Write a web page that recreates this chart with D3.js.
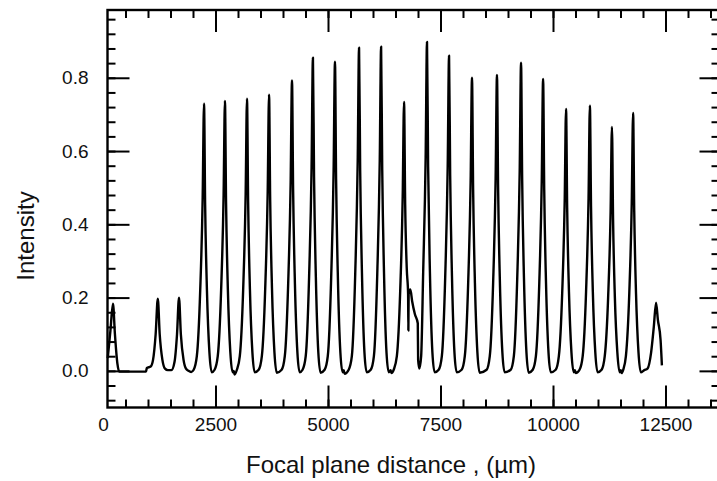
<!DOCTYPE html>
<html>
<head>
<meta charset="utf-8">
<script src="https://cdn.jsdelivr.net/npm/d3@7"></script>
<style>
  html, body { margin: 0; padding: 0; background: #fff; }
  svg { display: block; }
  .tick-label text { font-family: "Liberation Sans", Arial, sans-serif; font-size: 19px; fill: #111; }
  .axis-title { font-family: "Liberation Sans", Arial, sans-serif; font-size: 24px; fill: #111; }
</style>
</head>
<body>
<svg id="chart" width="717" height="481"></svg>
<script>
// tick labels
const xMajor = [0, 2500, 5000, 7500, 10000, 12500];
const yMajor = [0.0, 0.2, 0.4, 0.6, 0.8];
const xMinor = d3.range(500, 13700, 500);
const yMinor = d3.range(-0.08, 0.98, 0.04);

// measured trace: [focal plane distance (um), intensity]
const trace = [
  [105, 0.035], [165, 0.11], [222, 0.183], [265, 0.1], [320, 0.02], [360, -0.002],
  [400, -0.002], [600, -0.002], [800, -0.002], [955, -0.002],
  [975, 0.008], [1060, 0.012], [1112, 0.03], [1170, 0.1], [1218, 0.197], [1260, 0.1], [1320, 0.03], [1378, 0.006],
  [1440, 0.002], [1520, 0.002], [1590, 0.025], [1645, 0.1], [1689, 0.2], [1730, 0.1], [1790, 0.03], [1844, 0.006],
  [1900, 0.0], [1960, -0.003],
  [2015, 0.003], [2085, 0.04], [2160, 0.219], [2215, 0.474], [2245, 0.729], [2270, 0.452], [2310, 0.219], [2365, 0.05], [2415, -0.004],
  [2480, 0.003], [2550, 0.04], [2625, 0.221], [2680, 0.479], [2710, 0.737], [2735, 0.457], [2775, 0.221], [2830, 0.05], [2880, -0.004], [2905, 0.0], [2925, -0.01],
  [2975, 0.003], [3040, 0.04], [3115, 0.223], [3170, 0.483], [3200, 0.743], [3225, 0.461], [3265, 0.223], [3320, 0.05], [3370, -0.004],
  [3460, 0.003], [3530, 0.04], [3605, 0.226], [3660, 0.49], [3690, 0.754], [3715, 0.467], [3755, 0.226], [3810, 0.05], [3860, -0.005],
  [3970, 0.003], [4040, 0.04], [4115, 0.238], [4170, 0.515], [4200, 0.793], [4225, 0.492], [4265, 0.238], [4320, 0.05], [4370, -0.004],
  [4435, 0.003], [4505, 0.04], [4580, 0.257], [4635, 0.556], [4665, 0.855], [4690, 0.53], [4730, 0.257], [4785, 0.05], [4835, -0.005],
  [4925, 0.003], [4995, 0.04], [5070, 0.253], [5125, 0.549], [5155, 0.844], [5180, 0.523], [5220, 0.253], [5275, 0.05], [5325, -0.004], [5350, 0.002], [5370, -0.008],
  [5460, 0.003], [5530, 0.04], [5605, 0.265], [5660, 0.573], [5690, 0.882], [5715, 0.547], [5755, 0.265], [5810, 0.05], [5860, -0.004],
  [5950, 0.003], [6020, 0.04], [6095, 0.266], [6150, 0.575], [6180, 0.885], [6205, 0.549], [6245, 0.266], [6300, 0.05], [6350, -0.004], [6390, 0.002], [6410, -0.006],
  [6460, 0.003], [6530, 0.04], [6605, 0.22], [6660, 0.477], [6690, 0.734], [6715, 0.455], [6750, 0.28],
  [6780, 0.21], [6786, 0.11], [6792, 0.21], [6830, 0.222], [6870, 0.19], [6930, 0.155], [6995, 0.13], [7003, 0.03], [7030, 0.006],
  [7070, 0.04], [7115, 0.269], [7170, 0.584], [7200, 0.898], [7225, 0.557], [7265, 0.269], [7320, 0.05], [7370, -0.004],
  [7460, 0.003], [7530, 0.04], [7605, 0.258], [7660, 0.559], [7690, 0.86], [7715, 0.533], [7755, 0.258], [7810, 0.05], [7860, -0.004],
  [7970, 0.003], [8040, 0.04], [8115, 0.24], [8170, 0.52], [8200, 0.8], [8225, 0.496], [8265, 0.24], [8320, 0.05], [8370, -0.005],
  [8525, 0.003], [8595, 0.04], [8670, 0.242], [8725, 0.525], [8755, 0.808], [8780, 0.501], [8820, 0.242], [8875, 0.05], [8925, -0.004],
  [9060, 0.003], [9130, 0.04], [9205, 0.252], [9260, 0.547], [9290, 0.841], [9315, 0.521], [9355, 0.252], [9410, 0.05], [9460, -0.005],
  [9550, 0.003], [9620, 0.04], [9695, 0.239], [9750, 0.518], [9780, 0.797], [9805, 0.494], [9845, 0.239], [9900, 0.05], [9950, -0.004],
  [10060, 0.003], [10130, 0.04], [10205, 0.215], [10260, 0.465], [10290, 0.715], [10315, 0.443], [10355, 0.215], [10410, 0.05], [10460, -0.004], [10485, 0.002], [10505, -0.006],
  [10590, 0.003], [10660, 0.04], [10735, 0.217], [10790, 0.471], [10820, 0.724], [10845, 0.449], [10885, 0.217], [10940, 0.05], [10990, -0.004],
  [11080, 0.003], [11150, 0.04], [11225, 0.2], [11280, 0.433], [11310, 0.666], [11335, 0.413], [11375, 0.2], [11430, 0.05], [11480, -0.004], [11505, 0.002], [11525, -0.006],
  [11560, 0.003], [11620, 0.04], [11695, 0.211], [11750, 0.458], [11780, 0.704], [11805, 0.436], [11845, 0.211], [11900, 0.05], [11950, -0.004],
  [12030, 0.002], [12100, 0.006], [12180, 0.05], [12240, 0.12], [12290, 0.186], [12330, 0.14], [12390, 0.085], [12420, 0.015]
];

const frame = { left: 107.5, top: 10, right: 719.5, bottom: 407.5 };

const x = d3.scaleLinear().domain([100, 13700]).range([frame.left, frame.right]);
const y = d3.scaleLinear().domain([-0.1, 0.985]).range([frame.bottom, frame.top]);

const svg = d3.select('#chart');

// --- Trace ---
const line = d3.line()
    .x(d => x(d[0]))
    .y(d => y(d[1]))
    .curve(d3.curveMonotoneX);

svg.append('path')
    .datum(trace)
    .attr('d', line)
    .attr('fill', 'none')
    .attr('stroke', '#000')
    .attr('stroke-width', 2.4)
    .attr('stroke-linejoin', 'round');

// --- Frame ---
svg.append('rect')
    .attr('x', frame.left)
    .attr('y', frame.top)
    .attr('width', frame.right - frame.left)
    .attr('height', frame.bottom - frame.top)
    .attr('fill', 'none')
    .attr('stroke', '#000')
    .attr('stroke-width', 2.4);

// tick marks pointing into the plot
function marks(axis, transform, values, size) {
    svg.append('g')
        .attr('transform', transform)
        .call(axis.tickValues(values).tickSize(size).tickFormat(''))
        .call(g => g.select('.domain').remove())
        .call(g => g.selectAll('line').attr('stroke', '#000').attr('stroke-width', 2));
}

const xMajorIn = xMajor.filter(v => v > 100);
marks(d3.axisBottom(x), `translate(0,${frame.bottom})`, xMinor, -8);
marks(d3.axisBottom(x), `translate(0,${frame.bottom})`, xMajorIn, -22);
marks(d3.axisTop(x), `translate(0,${frame.top})`, xMinor, -8);
marks(d3.axisTop(x), `translate(0,${frame.top})`, xMajorIn, -22);
marks(d3.axisLeft(y), `translate(${frame.left},0)`, yMinor, -8);
marks(d3.axisLeft(y), `translate(${frame.left},0)`, yMajor, -22);
marks(d3.axisRight(y), `translate(${frame.right},0)`, yMinor, -8);
marks(d3.axisRight(y), `translate(${frame.right},0)`, yMajor, -20);

// --- Tick labels ---
svg.append('g')
    .attr('class', 'tick-label')
    .attr('transform', `translate(0,${frame.bottom})`)
    .call(d3.axisBottom(x).tickValues(xMajor).tickSize(0).tickPadding(10).tickFormat(d3.format('d')))
    .call(g => g.select('.domain').remove())
    .call(g => g.selectAll('text').attr('font-size', null).attr('font-family', null));

svg.append('g')
    .attr('class', 'tick-label')
    .attr('transform', `translate(${frame.left},0)`)
    .call(d3.axisLeft(y).tickValues(yMajor).tickSize(0).tickPadding(19).tickFormat(d3.format('.1f')))
    .call(g => g.select('.domain').remove())
    .call(g => g.selectAll('text').attr('font-size', null).attr('font-family', null));

// --- Axis titles ---
svg.append('text')
    .attr('class', 'axis-title')
    .attr('x', 391)
    .attr('y', 473)
    .attr('text-anchor', 'middle')
    .text('Focal plane distance , (\u00b5m)');

svg.append('text')
    .attr('class', 'axis-title')
    .attr('transform', 'translate(34,236) rotate(-90)')
    .attr('text-anchor', 'middle')
    .text('Intensity');
</script>
</body>
</html>
